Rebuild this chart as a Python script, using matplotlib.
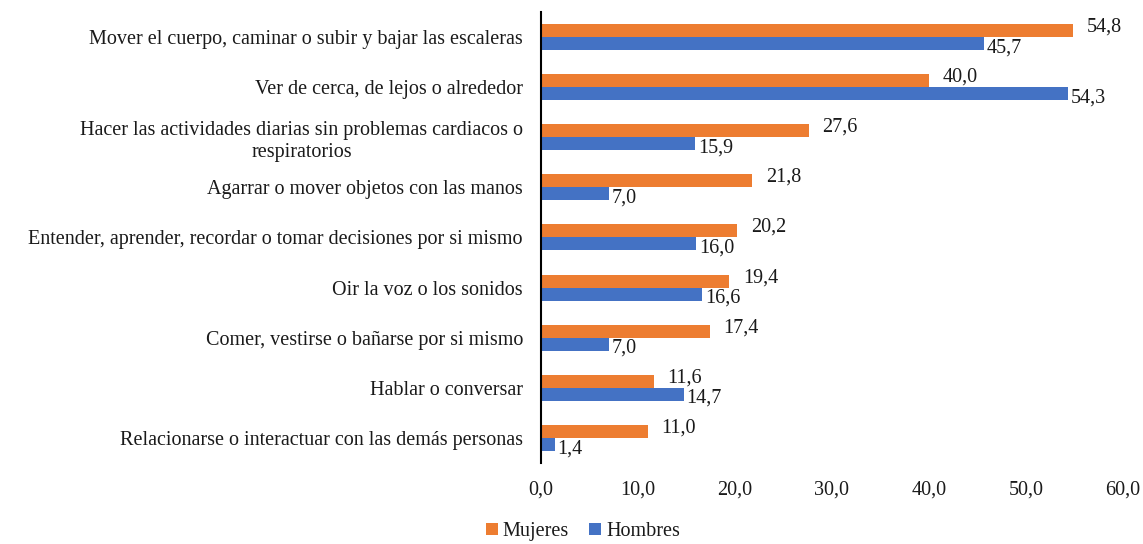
import numpy as np
import matplotlib.pyplot as plt

plt.rcParams['font.family'] = ['Liberation Serif', 'DejaVu Serif']

categorias = [
    "Mover el cuerpo, caminar o subir y bajar las escaleras",
    "Ver de cerca, de lejos o alrededor",
    "Hacer las actividades diarias sin problemas cardiacos o\nrespiratorios",
    "Agarrar o mover objetos con las manos",
    "Entender, aprender, recordar o tomar decisiones por si mismo",
    "Oir la voz o los sonidos",
    "Comer, vestirse o bañarse por si mismo",
    "Hablar o conversar",
    "Relacionarse o interactuar con las demás personas",
]
mujeres = [54.8, 40.0, 27.6, 21.8, 20.2, 19.4, 17.4, 11.6, 11.0]
hombres = [45.7, 54.3, 15.9, 7.0, 16.0, 16.6, 7.0, 14.7, 1.4]
xticks = [0, 10, 20, 30, 40, 50, 60]

c_muj = '#ED7D31'
c_hom = '#4472C4'

fig = plt.figure(figsize=(11.43, 5.44), dpi=100)
ax = fig.add_axes([0.4733, 0.149, 0.5092, 0.829])

y = np.arange(len(categorias))
h = 0.26
b1 = ax.barh(y - h / 2, mujeres, height=h, color=c_muj, label='Mujeres')
b2 = ax.barh(y + h / 2, hombres, height=h, color=c_hom, label='Hombres')

fs = 14.5
tc = '#1a1a1a'
# orange labels a bit up, blue labels a bit down, like the original
for bars, vals, dx, dy in [(b1, mujeres, 10, 2.5), (b2, hombres, 2, -3)]:
    for r, v in zip(bars, vals):
        ax.annotate(f"{v:.1f}".replace('.', ','),
                    (r.get_width(), r.get_y() + r.get_height() / 2),
                    xytext=(dx, dy), textcoords='offset points',
                    ha='left', va='center', fontsize=fs, color=tc)

ax.set_xlim(0, 60)
ax.set_ylim(len(categorias) - 0.5, -0.5)
ax.set_xticks(xticks)
ax.set_xticklabels([f"{t:.1f}".replace('.', ',') for t in xticks], fontsize=fs, color=tc)
ax.set_yticks(y)
ax.set_yticklabels(categorias, fontsize=fs, color=tc, ha='right', multialignment='center')
ax.tick_params(axis='both', length=0)
ax.tick_params(axis='x', pad=13)
ax.tick_params(axis='y', pad=13)
for s in ['top', 'right', 'bottom']:
    ax.spines[s].set_visible(False)
ax.spines['left'].set_linewidth(1.5)
ax.spines['left'].set_color('black')

fig.legend(handles=[b1, b2], loc='lower center', bbox_to_anchor=(0.51, -0.028), ncol=2,
           frameon=False, fontsize=fs, handlelength=0.6, handleheight=0.6,
           handletextpad=0.25, columnspacing=1.0, labelcolor=tc)

fig.savefig('out.png', dpi=100)
